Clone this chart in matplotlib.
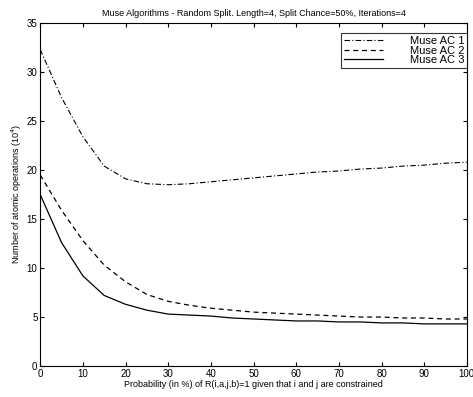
import matplotlib
matplotlib.use('Agg')
import matplotlib.pyplot as plt

plt.rcParams['font.family'] = ['Liberation Sans', 'DejaVu Sans']

prob = [0, 5, 10, 15, 20, 25, 30, 35, 40, 45, 50, 55, 60, 65, 70, 75, 80, 85, 90, 95, 100]
ac1 = [32.3, 27.4, 23.4, 20.4, 19.1, 18.6, 18.5, 18.6, 18.8, 19.0, 19.2,
       19.4, 19.6, 19.8, 19.9, 20.1, 20.2, 20.4, 20.5, 20.7, 20.8]
ac2 = [19.5, 15.9, 12.8, 10.3, 8.6, 7.3, 6.6, 6.2, 5.9, 5.7, 5.5,
       5.4, 5.3, 5.2, 5.1, 5.0, 5.0, 4.9, 4.9, 4.8, 4.8]
ac3 = [17.5, 12.6, 9.2, 7.2, 6.3, 5.7, 5.3, 5.2, 5.1, 4.9, 4.8,
       4.7, 4.6, 4.6, 4.5, 4.5, 4.4, 4.4, 4.3, 4.3, 4.3]

fig = plt.figure(figsize=(4.73, 3.97), dpi=100)
ax = fig.add_axes([0.085, 0.078, 0.902, 0.864])

ax.plot(prob, ac1, color='black', lw=0.8, linestyle=(0, (5, 2, 1, 2)), label='Muse AC 1')
ax.plot(prob, ac2, color='black', lw=0.9, linestyle=(0, (4, 3)), label='Muse AC 2')
ax.plot(prob, ac3, color='black', lw=0.9, linestyle='-', label='Muse AC 3')

ax.set_xlim(0, 100)
ax.set_ylim(0, 35)
ax.set_xticks(range(0, 101, 10))
ax.set_yticks(range(0, 36, 5))
ax.tick_params(direction='in', top=True, right=True, labelsize=7, length=3, pad=2)
for s in ax.spines.values():
    s.set_linewidth(0.8)

ax.set_title('Muse Algorithms - Random Split. Length=4, Split Chance=50%, Iterations=4',
             fontsize=6.5, pad=5)
ax.set_xlabel('Probability (in %) of R(i,a,j,b)=1 given that i and j are constrained',
              fontsize=6.5, labelpad=1)
ax.set_ylabel('Number of atomic operations (10$^4$)', fontsize=6.5, labelpad=2)

leg = ax.legend(loc='upper right', bbox_to_anchor=(1.0, 0.97), fontsize=8,
                frameon=True, fancybox=False, edgecolor='black', handlelength=3.5,
                borderpad=0.25, labelspacing=-0.05, handletextpad=2.4, borderaxespad=0)
leg.get_frame().set_linewidth(0.8)

fig.savefig('out.png', dpi=100)
